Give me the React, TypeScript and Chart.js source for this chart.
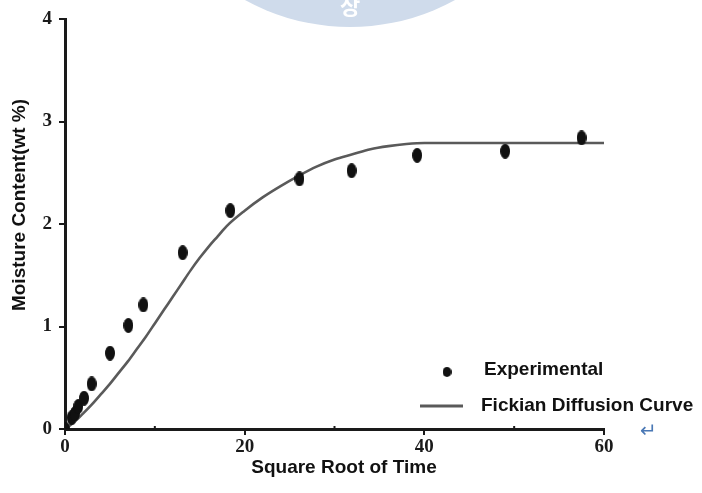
import { useEffect, useRef } from "react";
import { Chart, registerables } from "chart.js";

Chart.register(...registerables);

// Measured uptake (square root of time vs. moisture content)
const sqrtTime = [0, 0.74, 1.11, 1.48, 2.12, 2.97, 5.01, 7.05, 8.72, 13.1, 18.4, 26.1, 31.9, 39.2, 49.0, 57.5];
const moisture = [0, 0.11, 0.15, 0.22, 0.3, 0.44, 0.74, 1.01, 1.21, 1.72, 2.13, 2.44, 2.52, 2.67, 2.71, 2.84];

// Fitted Fickian diffusion curve
const fitX = [0, 1, 2, 3, 4, 5, 6, 7, 8, 9, 10, 11, 12, 13, 14, 15, 16, 17, 18, 20, 22, 24, 26, 28, 30, 32, 34, 36, 38, 40, 50, 60];
const fitY = [0, 0.065, 0.15, 0.24, 0.34, 0.44, 0.55, 0.66, 0.78, 0.9, 1.03, 1.16, 1.29, 1.42, 1.55, 1.67, 1.78, 1.88, 1.98, 2.13, 2.26, 2.37, 2.47, 2.56, 2.63, 2.68, 2.73, 2.76, 2.78, 2.79, 2.79, 2.79];

const seriesLabels = ["Experimental", "Fickian Diffusion Curve"];
const xTitle = "Square Root of Time";
const yTitle = "Moisture Content(wt %)";
const xTicks = [0, 20, 40, 60];
const xMinorTicks = [10, 30, 50];
const yTicks = [0, 1, 2, 3, 4];

const INK = "#1a1a1a";
const CURVE = "#5a5a5a";
const SANS_BOLD = "bold 19px 'Liberation Sans', Arial, sans-serif";

function makeDot(w: number, h: number, color: string) {
  const c = document.createElement("canvas");
  c.width = w;
  c.height = h;
  const g = c.getContext("2d")!;
  g.fillStyle = color;
  g.beginPath();
  g.ellipse(w / 2, h / 2, w / 2, h / 2, 0, 0, Math.PI * 2);
  g.fill();
  return c;
}

export default function App() {
  const ref = useRef<HTMLCanvasElement | null>(null);

  useEffect(() => {
    const canvas = ref.current;
    if (!canvas) return;
    const dot = makeDot(10, 15, "#111");
    const legendDot = makeDot(9, 10, "#111");

    const decor = {
      id: "decor",
      beforeDraw(chart: any) {
        const ctx = chart.ctx;
        ctx.save();
        // faint emblem peeking in at the top edge
        ctx.fillStyle = "#cfdbeb";
        ctx.beginPath();
        ctx.arc(350, -191, 218, 0, Math.PI * 2);
        ctx.fill();
        ctx.fillStyle = "#ffffff";
        ctx.font = "bold 22px 'Noto Sans CJK KR'";
        ctx.textAlign = "center";
        ctx.textBaseline = "middle";
        ctx.fillText("상", 350, 6);
        ctx.restore();
      },
      afterDraw(chart: any) {
        const ctx = chart.ctx;
        const xs = chart.scales.x;
        const y0 = chart.chartArea.bottom;
        ctx.save();
        // small minor marks along the x axis
        ctx.strokeStyle = INK;
        ctx.lineWidth = 2;
        for (const v of xMinorTicks) {
          const px = xs.getPixelForValue(v);
          ctx.beginPath();
          ctx.moveTo(px, y0 - 3);
          ctx.lineTo(px, y0 + 2);
          ctx.stroke();
        }
        // axis titles
        ctx.font = SANS_BOLD;
        ctx.fillStyle = "#111";
        ctx.textAlign = "center";
        ctx.textBaseline = "middle";
        ctx.fillText(chart.options.scales.x.title.text, 344, 468);
        ctx.save();
        ctx.translate(20, 205);
        ctx.rotate(-Math.PI / 2);
        ctx.fillText(chart.options.scales.y.title.text, 0, 0);
        ctx.restore();
        // legend
        const ds = chart.data.datasets;
        ctx.textAlign = "left";
        ctx.drawImage(legendDot, 447 - legendDot.width / 2, 372 - legendDot.height / 2);
        ctx.fillText(ds[0].label, 484, 370);
        ctx.strokeStyle = CURVE;
        ctx.lineWidth = 3;
        ctx.beginPath();
        ctx.moveTo(420, 406);
        ctx.lineTo(463, 406);
        ctx.stroke();
        ctx.fillText(ds[1].label, 481, 406);
        // paragraph mark
        ctx.fillStyle = "#4a78b5";
        ctx.font = "20px 'DejaVu Sans'";
        ctx.fillText("\u21B5", 640, 432);
        ctx.restore();
      },
    };

    const tickFont = { family: "'Liberation Serif', serif", weight: "bold" as const, size: 19 };

    const chart = new Chart(canvas, {
      type: "scatter",
      data: {
        datasets: [
          {
            label: seriesLabels[0],
            data: sqrtTime.map((x, i) => ({ x, y: moisture[i] })),
            pointStyle: dot as any,
            pointRadius: 6,
            backgroundColor: "#111",
            borderColor: "#111",
            order: 0,
          },
          {
            label: seriesLabels[1],
            data: fitX.map((x, i) => ({ x, y: fitY[i] })),
            showLine: true,
            pointRadius: 0,
            borderColor: CURVE,
            borderWidth: 2.6,
            cubicInterpolationMode: "monotone",
            order: 1,
          },
        ],
      },
      options: {
        animation: false,
        responsive: false,
        layout: { padding: { top: 19, right: 98, bottom: 0, left: 0 } },
        plugins: { legend: { display: false }, tooltip: { enabled: false } },
        scales: {
          x: {
            type: "linear",
            min: 0,
            max: 60,
            afterBuildTicks: (s: any) => {
              s.ticks = xTicks.map((v) => ({ value: v }));
            },
            afterFit: (s: any) => {
              s.height = 64;
            },
            ticks: { font: tickFont, color: INK, padding: 1, maxRotation: 0 },
            grid: { drawOnChartArea: false, tickLength: 6, color: INK, lineWidth: 2 },
            border: { color: INK, width: 3 },
            title: { display: false, text: xTitle },
          },
          y: {
            type: "linear",
            min: 0,
            max: 4,
            afterBuildTicks: (s: any) => {
              s.ticks = yTicks.map((v) => ({ value: v }));
            },
            afterFit: (s: any) => {
              s.width = 65;
            },
            ticks: { font: tickFont, color: INK, padding: 7 },
            grid: { drawOnChartArea: false, tickLength: 6, color: INK, lineWidth: 2 },
            border: { color: INK, width: 3 },
            title: { display: false, text: yTitle },
          },
        },
      },
      plugins: [decor],
    });
    return () => chart.destroy();
  }, []);

  return (
    <div style={{ position: "fixed", left: 0, top: 0, width: 702, height: 493, background: "#fff" }}>
      <canvas ref={ref} width={702} height={493} />
    </div>
  );
}
